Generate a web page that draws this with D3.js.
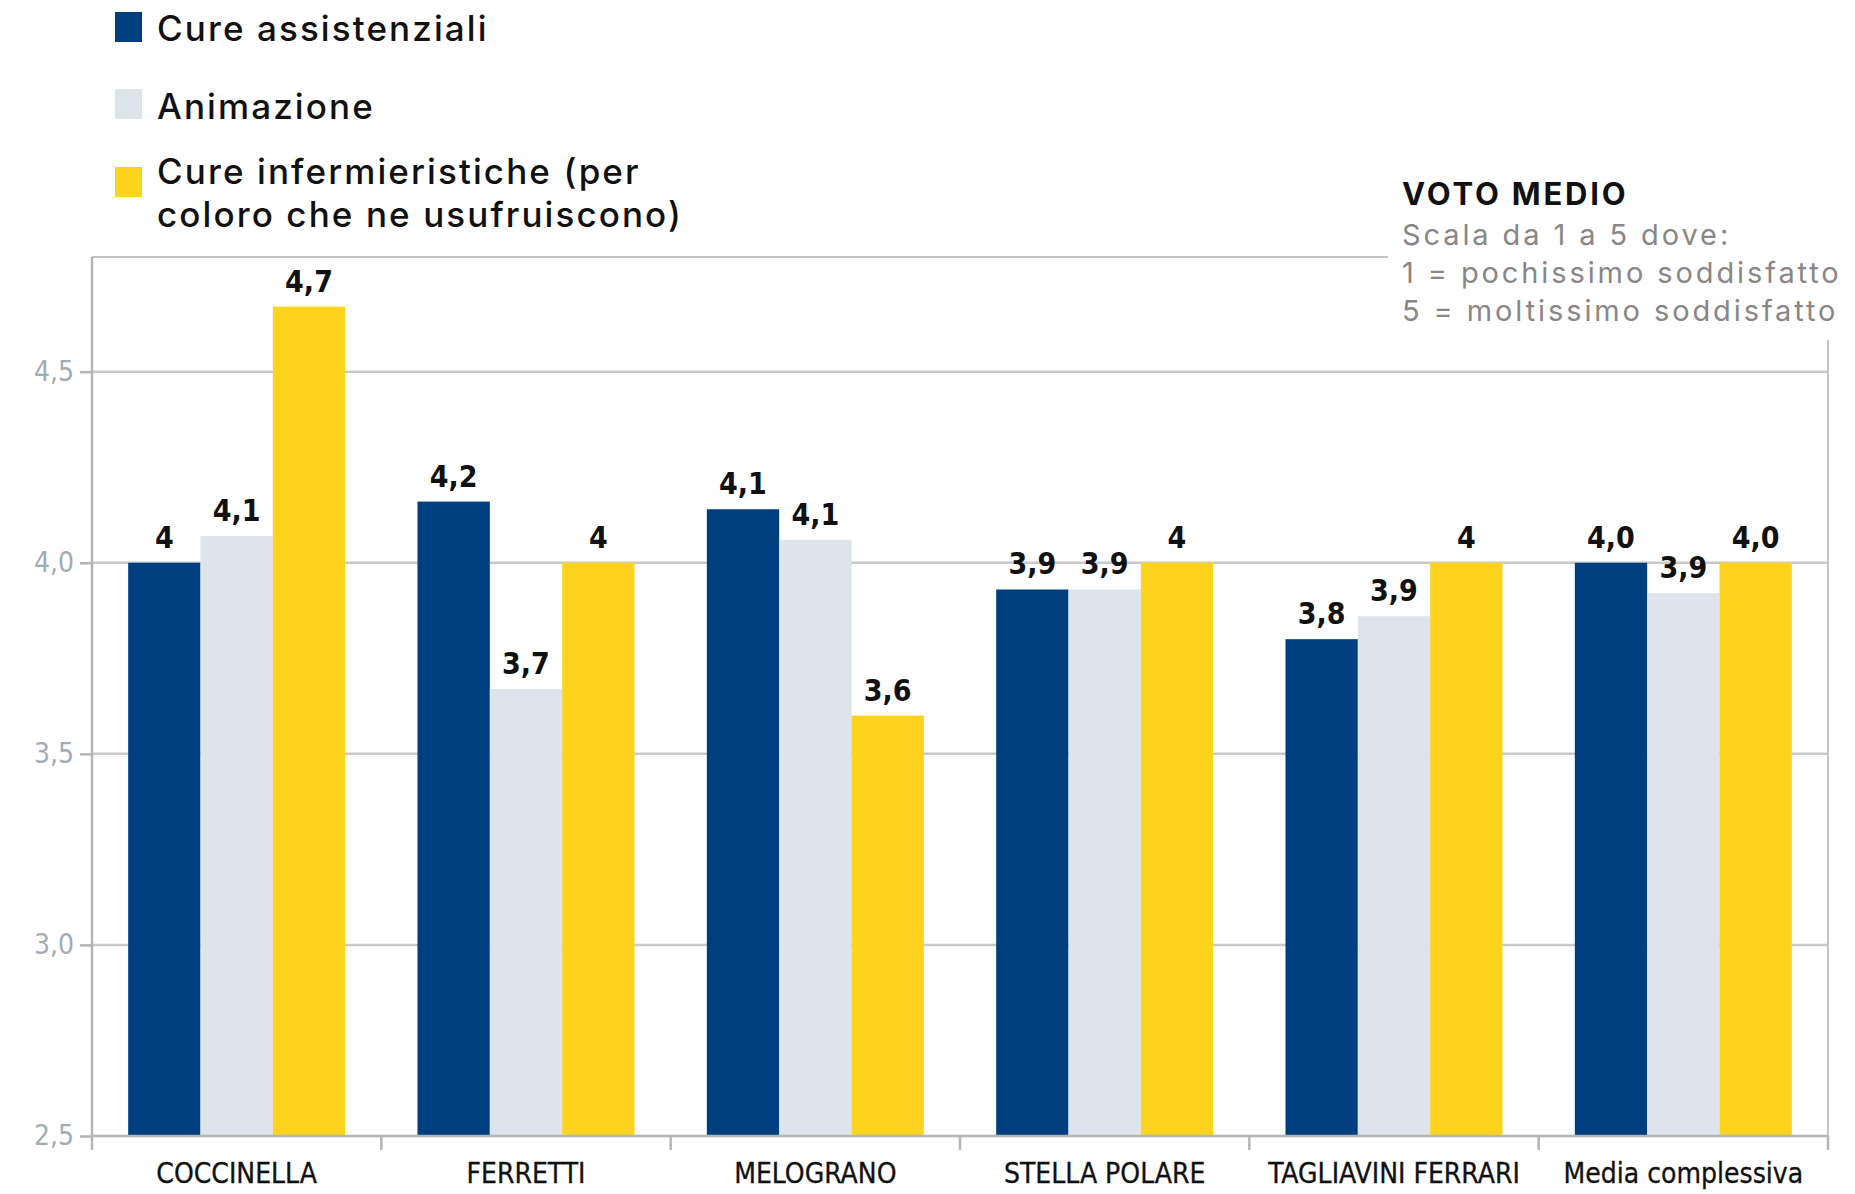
<!DOCTYPE html>
<html><head><meta charset="utf-8">
<script src="https://cdn.jsdelivr.net/npm/d3@7"></script>
<style>
html,body{margin:0;padding:0;background:#fff;}
svg{display:block;}
</style></head>
<body>
<svg id="chart" width="1855" height="1194"></svg>
<script>
const categories = ["COCCINELLA","FERRETTI","MELOGRANO","STELLA POLARE","TAGLIAVINI FERRARI","Media complessiva"];
const seriesNames = ["Cure assistenziali","Animazione","Cure infermieristiche (per coloro che ne usufruiscono)"];
const cureAssistenziali = [4.0, 4.16, 4.14, 3.93, 3.80, 4.0];
const animazione = [4.07, 3.67, 4.06, 3.93, 3.86, 3.92];
const cureInfermieristiche = [4.67, 4.0, 3.60, 4.0, 4.0, 4.0];
const labelsAssistenziali = ["4","4,2","4,1","3,9","3,8","4,0"];
const labelsAnimazione = ["4,1","3,7","4,1","3,9","3,9","3,9"];
const labelsInfermieristiche = ["4,7","4","3,6","4","4","4,0"];
const yTicks = [2.5, 3.0, 3.5, 4.0, 4.5];
const yTickLabels = ["2,5","3,0","3,5","4,0","4,5"];
const colors = ["#003f7f","#dde4eb","#fdd31e"];

(function () {
const series = [cureAssistenziali, animazione, cureInfermieristiche];
const seriesLabels = [labelsAssistenziali, labelsAnimazione, labelsInfermieristiche];

const svg = d3.select("#chart");
const pLeft = 92, pRight = 1828, pTop = 257, pBottom = 1136;

const y = d3.scaleLinear().domain([2.5, 4.8]).range([pBottom, pTop]);
const x0 = d3.scaleBand().domain(categories).range([pLeft, pRight]).padding(0);
const x1 = d3.scaleBand().domain(d3.range(3)).range([0, x0.bandwidth()]).paddingInner(0).paddingOuter(0.5);

const condensed = "'DejaVu Sans Condensed','DejaVu Sans',sans-serif";

// gridlines
svg.append("g").selectAll("line").data(yTicks.slice(1)).join("line")
  .attr("x1", pLeft).attr("x2", pRight)
  .attr("y1", d => y(d)).attr("y2", d => y(d))
  .attr("stroke", "#c9c9c9").attr("stroke-width", 2.5);

// plot frame (top + right)
svg.append("line").attr("x1", pLeft).attr("x2", pRight).attr("y1", pTop).attr("y2", pTop)
  .attr("stroke", "#c4c4c4").attr("stroke-width", 2);
svg.append("line").attr("x1", pRight).attr("x2", pRight).attr("y1", pTop).attr("y2", pBottom)
  .attr("stroke", "#c4c4c4").attr("stroke-width", 2);

// bars
const groups = svg.append("g").selectAll("g").data(categories).join("g")
  .attr("transform", d => `translate(${x0(d)},0)`);
groups.each(function(cat, ci) {
  const g = d3.select(this);
  series.forEach((s, si) => {
    g.append("rect")
      .attr("x", x1(si)).attr("width", x1.bandwidth())
      .attr("y", y(s[ci])).attr("height", y(2.5) - y(s[ci]))
      .attr("fill", colors[si]);
    g.append("text")
      .attr("x", x1(si) + x1.bandwidth() / 2)
      .attr("y", y(s[ci]) - 15)
      .attr("text-anchor", "middle")
      .attr("font-family", condensed)
      .attr("font-weight", "bold")
      .attr("font-size", 30)
      .attr("fill", "#111")
      .text(seriesLabels[si][ci]);
  });
});

// y axis
const yAxis = d3.axisLeft(y).tickValues(yTicks).tickFormat((d, i) => yTickLabels[i]).tickSize(12).tickPadding(6);
const gy = svg.append("g").attr("transform", `translate(${pLeft},0)`).call(yAxis);
gy.select(".domain").attr("stroke", "#b5b5b5").attr("stroke-width", 2.5).attr("d", `M0,${pTop}V${pBottom}`);
gy.selectAll(".tick line").attr("stroke", "#b5b5b5").attr("stroke-width", 2.5);
gy.selectAll(".tick text").attr("font-family", condensed).attr("font-size", 28).attr("fill", "#a3abb4");

// x axis
const xAxis = d3.axisBottom(x0).tickSize(0).tickPadding(27);
const gx = svg.append("g").attr("transform", `translate(0,${pBottom})`).call(xAxis);
gx.select(".domain").attr("stroke", "#b5b5b5").attr("stroke-width", 2.5).attr("d", `M${pLeft},0H${pRight}`);
gx.selectAll(".tick text").attr("font-family", condensed).attr("font-size", 28).attr("fill", "#111")
  .attr("stroke", "#111").attr("stroke-width", 0.3);
// boundary ticks
const bounds = categories.map(c => x0(c)).concat([pRight]);
svg.append("g").selectAll("line").data(bounds).join("line")
  .attr("x1", d => d).attr("x2", d => d).attr("y1", pBottom).attr("y2", pBottom + 14)
  .attr("stroke", "#b5b5b5").attr("stroke-width", 2.5);

// white box behind annotation
svg.append("rect").attr("x", 1388).attr("y", 140).attr("width", 467).attr("height", 200).attr("fill", "#fff");

// annotation
const ann = svg.append("g").attr("font-family", "Inter, 'Noto Sans', sans-serif");
ann.append("text").attr("x", 1402).attr("y", 205).attr("font-size", 31).attr("font-weight", 700)
  .attr("letter-spacing", 2.8).attr("fill", "#111").text("VOTO MEDIO");
const annLines = ["Scala da 1 a 5 dove:", "1 = pochissimo soddisfatto", "5 = moltissimo soddisfatto"];
ann.selectAll("text.sub").data(annLines).join("text").attr("class", "sub")
  .attr("x", 1402).attr("y", (d, i) => 245 + i * 38)
  .attr("font-size", 29).attr("letter-spacing", 2.9).attr("fill", "#8a8686").text(d => d);

// legend
const leg = svg.append("g").attr("font-family", "Inter, 'Noto Sans', sans-serif").attr("font-size", 35)
  .attr("font-weight", 500).attr("letter-spacing", 2.1).attr("fill", "#111");
const legY = [12, 89, 167];
leg.selectAll("rect").data(colors).join("rect")
  .attr("x", 115).attr("y", (d, i) => legY[i]).attr("width", 27).attr("height", 30).attr("fill", d => d);
leg.append("text").attr("x", 157).attr("y", 41).text(seriesNames[0]);
leg.append("text").attr("x", 157).attr("y", 119).text(seriesNames[1]);
const t3 = leg.append("text").attr("x", 157).attr("y", 184);
t3.append("tspan").attr("x", 157).text("Cure infermieristiche (per");
t3.append("tspan").attr("x", 157).attr("dy", 43).text("coloro che ne usufruiscono)");
})();
</script>
</body></html>
